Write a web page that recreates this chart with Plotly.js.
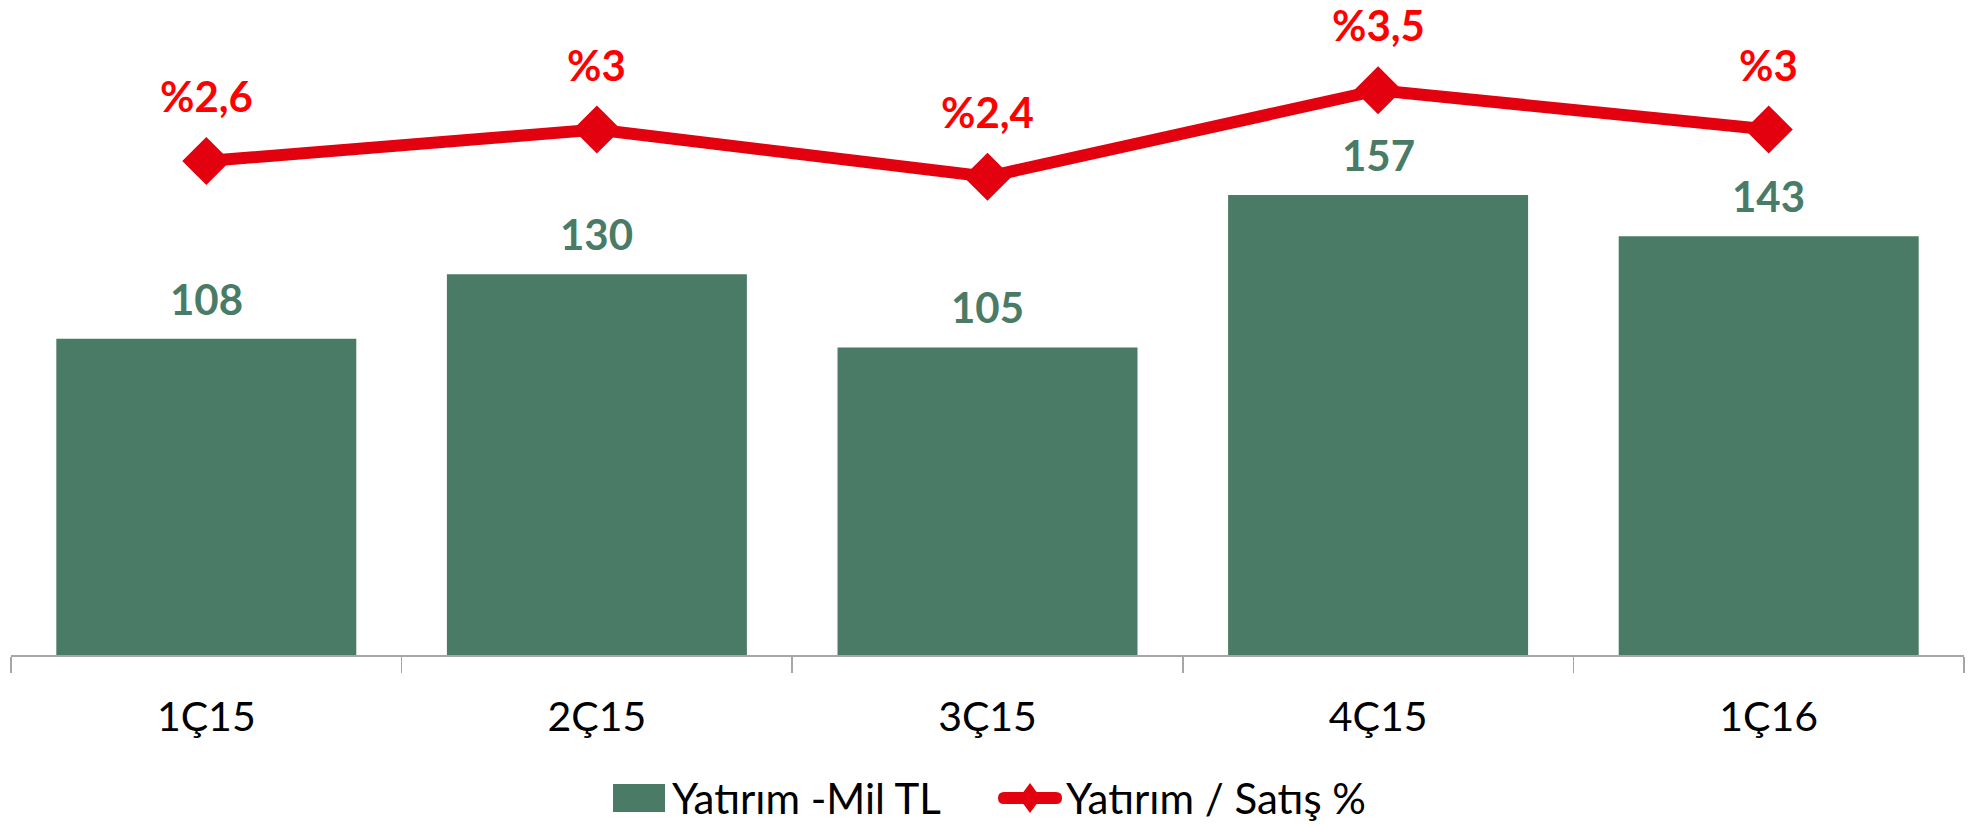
<!DOCTYPE html>
<html>
<head>
<meta charset="utf-8">
<script src="https://cdn.plot.ly/plotly-3.0.1.min.js"></script>
<style>html,body{margin:0;padding:0;background:#fff;}#chart{width:1980px;height:827px;}</style>
</head>
<body>
<div id="chart"></div>
<script>
const categories = ['1Ç15', '2Ç15', '3Ç15', '4Ç15', '1Ç16'];
const investment = [108, 130, 105, 157, 143];
const investmentPct = [2.6, 3, 2.4, 3.5, 3];
const seriesNames = ['Yatırım -Mil TL', 'Yatırım / Satış %'];

const green = '#497B66';
const red = '#E3000F';
const labelFont = 'Lato, "Open Sans", sans-serif';

const pctLabel = v => '%' + String(v).replace('.', ',');

// plot-area geometry (pixels) used to place the hand-drawn legend
const W = 1980, H = 827, M = {l: 11, r: 16, t: 10, b: 172};
const pw = W - M.l - M.r, ph = H - M.t - M.b;
const px = x => (x - M.l) / pw;
const py = y => (H - M.b - y) / ph;

const bars = {
  type: 'bar', x: categories, y: investment, name: seriesNames[0],
  marker: {color: green}, hoverinfo: 'skip'
};
const line = {
  type: 'scatter', mode: 'lines+markers', x: categories, y: investmentPct, yaxis: 'y2',
  name: seriesNames[1],
  line: {color: red, width: 12},
  marker: {symbol: 'diamond', size: 37, color: red},
  hoverinfo: 'skip'
};

const annotations = [];
categories.forEach((c, i) => {
  annotations.push({
    x: c, y: investment[i], xref: 'x', yref: 'y', text: String(investment[i]),
    showarrow: false, yanchor: 'middle', yshift: 40,
    font: {family: labelFont, size: 42, color: green, weight: 'bold'}
  });
  annotations.push({
    x: c, y: investmentPct[i], xref: 'x', yref: 'y2', text: pctLabel(investmentPct[i]),
    showarrow: false, yanchor: 'middle', yshift: 65,
    font: {family: labelFont, size: 42, color: '#FF0000', weight: 'bold'}
  });
});

// legend (drawn by hand to match the reference symbol sizes)
const legY = 798;
annotations.push({
  xref: 'paper', yref: 'paper', x: px(670), y: py(legY), xanchor: 'left', yanchor: 'middle',
  text: seriesNames[0], showarrow: false, font: {family: labelFont, size: 42, color: '#000'}
});
annotations.push({
  xref: 'paper', yref: 'paper', x: px(1064), y: py(legY), xanchor: 'left', yanchor: 'middle',
  text: seriesNames[1], showarrow: false, font: {family: labelFont, size: 42, color: '#000'}
});
const dcx = 1030, ddx = 11, ddy = 15;
const shapes = [
  {type: 'rect', xref: 'paper', yref: 'paper', x0: px(613), x1: px(665), y0: py(812), y1: py(784),
   fillcolor: green, line: {width: 0}},
  {type: 'path', xref: 'paper', yref: 'paper',
   path: `M${px(1004)},${py(legY - 6)} L${px(1056)},${py(legY - 6)} Q${px(1062)},${py(legY - 6)} ${px(1062)},${py(legY)} Q${px(1062)},${py(legY + 6)} ${px(1056)},${py(legY + 6)} L${px(1004)},${py(legY + 6)} Q${px(998)},${py(legY + 6)} ${px(998)},${py(legY)} Q${px(998)},${py(legY - 6)} ${px(1004)},${py(legY - 6)} Z`,
   fillcolor: red, line: {width: 0}},
  {type: 'path', xref: 'paper', yref: 'paper',
   path: `M${px(dcx - ddx)},${py(legY)} L${px(dcx)},${py(legY - ddy)} L${px(dcx + ddx)},${py(legY)} L${px(dcx)},${py(legY + ddy)} Z`,
   fillcolor: red, line: {width: 0}}
];

const layout = {
  width: W, height: H,
  margin: M,
  paper_bgcolor: '#fff', plot_bgcolor: '#fff',
  bargap: 0.232,
  showlegend: false,
  xaxis: {
    type: 'category', range: [-0.5, 4.5],
    showline: true, linecolor: '#A6A6A6', linewidth: 1.5,
    ticks: 'outside', tickson: 'boundaries', ticklen: 16, tickcolor: '#A6A6A6', tickwidth: 1.5,
    ticklabelstandoff: 25,
    tickfont: {family: labelFont, size: 41, color: '#000'},
    showgrid: false, zeroline: false, fixedrange: true
  },
  yaxis: {
    range: [0, 220.2], visible: false, showgrid: false, zeroline: false, fixedrange: true
  },
  yaxis2: {
    range: [-3.68, 4.52], overlaying: 'y', side: 'right', visible: false,
    showgrid: false, zeroline: false, fixedrange: true
  },
  annotations: annotations,
  shapes: shapes
};

Plotly.newPlot('chart', [bars, line], layout, {displayModeBar: false, staticPlot: true});
</script>
</body>
</html>
